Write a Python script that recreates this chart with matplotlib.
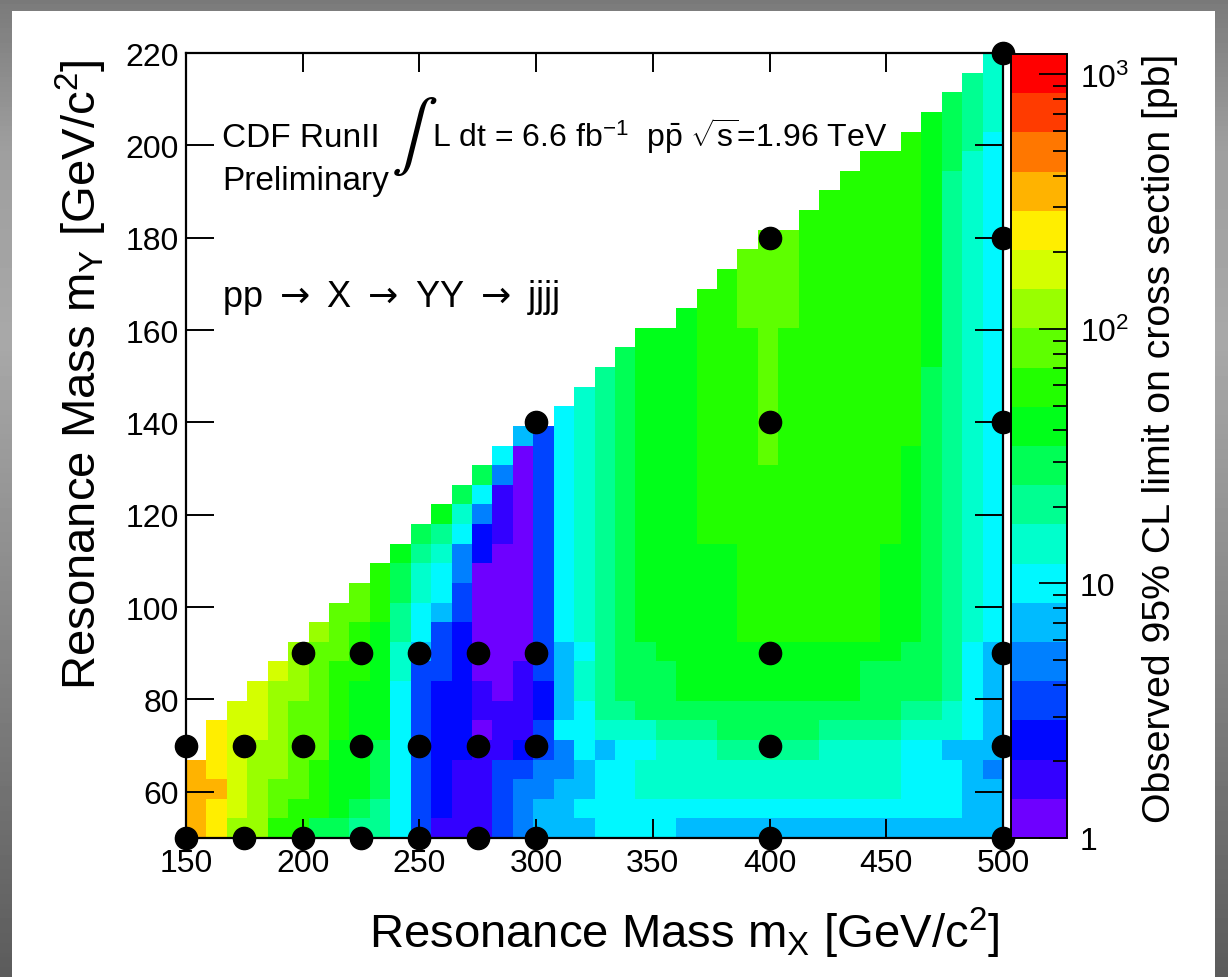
import numpy as np
import matplotlib
matplotlib.use("Agg")
import matplotlib.pyplot as plt
from matplotlib.colors import ListedColormap, LogNorm
from matplotlib.patches import Rectangle
from matplotlib.ticker import LogLocator, NullFormatter

plt.rcParams["font.family"] = ["Liberation Sans", "DejaVu Sans"]
plt.rcParams["mathtext.fontset"] = "custom"
plt.rcParams["mathtext.rm"] = "Liberation Sans"
plt.rcParams["mathtext.it"] = "Liberation Sans:italic"
plt.rcParams["mathtext.bf"] = "Liberation Sans:bold"

# binning of the limit histogram
mx_lo, mx_hi = 150, 500
my_lo, my_hi = 50, 220
n_bins = 40

# contour band of the observed limit in every filled bin, one string per m_X bin,
# first character = lowest m_Y bin ("0" = lowest band ... "j" = highest band)
band_codes = "0123456789abcdefghij"
limit_bands = [
    "gggg",
    "ffgfff",
    "deeeeee",
    "dddddeee",
    "bccddddde",
    "bbcccccddd",
    "9bbbccccccd",
    "9aaaabbbbccc",
    "89aaaaaabbbcc",
    "88999aaaaaabbb",
    "666666667788" + "99a",
    "3333333335667789",
    "1222222233356678a",
    "111122222223344679",
    "1111101100000022" + "469",
    "3333" + "111" + "0" * 8 + "111" + "46",
    "44432" + "1111" + "0" * 11 + "5",
    "554433" + "22" + "3" * 13,
    "555446" + "5555" + "6" * 12,
    "5655666776" + "7" * 13,
    "6666578888" + "8" * 14,
    "6666678999" + "9" * 15,
    "6677679999" + "a" * 16,
    "667778999a" + "a" * 16,
    "5677789aaa" + "a" * 17,
    "5677789aaa" + "a" * 5 + "b" * 13,
    "5677899aaa" + "a" * 5 + "b" * 14,
    "5677899aaa" + "b" * 16 + "c" * 4,
    "5677899aaa" + "b" * 9 + "c" * 12,
    "5677899aaa" + "b" * 16 + "c" * 5,
    "5677899aaa" + "b" * 22,
    "5677789aaa" + "b" * 23,
    "5677789aaa" + "b" * 24,
    "567778999a" + "b" * 25,
    "567778999a" + "a" * 5 + "b" * 20,
    "5666678999" + "a" * 10 + "b" * 16,
    "5666678999" + "9" * 14 + "a" * 13,
    "5666577888" + "8" * 24 + "9" * 4,
    "5555566666" + "7" * 25 + "8" * 4,
    "5554555555" + "6" * 26 + "7" * 4,
]

# generated signal points (m_X, m_Y)
signal_mx = [150, 150, 175, 175, 200, 200, 200, 225, 225, 225, 250, 250, 250,
             275, 275, 275, 300, 300, 300, 300, 400, 400, 400, 400, 400,
             500, 500, 500, 500, 500, 500]
signal_my = [50, 70, 50, 70, 50, 70, 90, 50, 70, 90, 50, 70, 90,
             50, 70, 90, 50, 70, 90, 140, 50, 70, 90, 140, 180,
             50, 70, 90, 140, 180, 220]

# colour scale of the limit [pb]
z_min = 1.0
log_z_max = 3.08
palette = ["#6e00ff", "#3300ff", "#0008ff", "#0044ff", "#0080ff", "#00bbff",
           "#00f8ff", "#00ffcc", "#00ff91", "#00ff55", "#00ff1a", "#22ff00",
           "#5eff00", "#99ff00", "#d4ff00", "#ffee00", "#ffb300", "#ff7700",
           "#ff3b00", "#ff0000"]
n_levels = len(palette)

# ---- fill the histogram ----
z = np.full((n_bins, n_bins), np.nan)
for ix, col in enumerate(limit_bands):
    for iy, ch in enumerate(col):
        k = band_codes.index(ch)
        z[iy, ix] = 10 ** ((k + 0.5) * log_z_max / n_levels)
z = np.ma.masked_invalid(z)
x_edges = np.linspace(mx_lo, mx_hi, n_bins + 1)
y_edges = np.linspace(my_lo, my_hi, n_bins + 1)

W, H = 1228, 978
fig = plt.figure(figsize=(W / 100, H / 100), dpi=100)

# slide frame
bg = fig.add_axes([0, 0, 1, 1], zorder=-10)
bg.set_axis_off()
rows = np.linspace(0, 1, 200)
grey = np.interp(rows, [0, 0.15, 0.35, 0.7, 1.0], [0.48, 0.62, 0.66, 0.50, 0.36])
bg.imshow(np.repeat(grey[:, None], 2, axis=1), cmap="gray", vmin=0, vmax=1,
          aspect="auto", extent=[0, 1, 0, 1], origin="upper")
bg.add_patch(Rectangle((12 / W, 0), (1215 - 12) / W, (H - 12) / H,
                       facecolor="white", edgecolor="none"))
bg.set_xlim(0, 1)
bg.set_ylim(0, 1)


def fx(px):
    return px / W


def fy(py):
    return 1 - py / H


ax = fig.add_axes([fx(186), fy(839), (1003 - 186) / W, (839 - 54) / H])
cmap = ListedColormap(palette)
norm = LogNorm(vmin=z_min, vmax=10 ** log_z_max)
mesh = ax.pcolormesh(x_edges, y_edges, z, cmap=cmap, norm=norm, zorder=1)
ax.plot(signal_mx, signal_my, "o", color="black", ms=16, clip_on=False, zorder=5)

ax.set_xlim(mx_lo, mx_hi)
ax.set_ylim(my_lo, my_hi)
ax.set_xticks(np.arange(150, 501, 50))
ax.set_yticks(np.arange(60, 221, 20))
ax.tick_params(direction="in", top=True, right=True, width=1.4, labelsize=23)
ax.tick_params(axis="x", length=14, pad=7)
ax.tick_params(axis="y", length=20, pad=5)
for sp in ax.spines.values():
    sp.set_linewidth(1.6)

# colour bar
cax = fig.add_axes([fx(1011), fy(839), (1067 - 1011) / W, (839 - 55) / H])
cb = fig.colorbar(mesh, cax=cax)
cb.outline.set_linewidth(1.4)
cb.set_ticks([1, 10, 100, 1000], labels=["1", "10", r"$10^{2}$", r"$10^{3}$"])
cax.yaxis.set_minor_locator(LogLocator(base=10, subs=np.arange(2, 10)))
cax.yaxis.set_minor_formatter(NullFormatter())
cax.tick_params(which="both", direction="in", right=True, left=False,
                width=1.3, labelsize=23, pad=9)
cax.tick_params(which="major", length=20)
cax.tick_params(which="minor", length=10)

# axis titles
fig.text(fx(684), fy(948), r"Resonance Mass m$_{\mathrm{X}}$ [GeV/c$^{2}$]",
         fontsize=34, ha="center", va="baseline")
fig.text(fx(96), fy(375), r"Resonance Mass m$_{\mathrm{Y}}$ [GeV/c$^{2}$]",
         fontsize=34, ha="center", va="baseline", rotation=90,
         rotation_mode="anchor")
fig.text(fx(1170), fy(438), "Observed 95% CL limit on cross section [pb]",
         fontsize=28.3, ha="center", va="baseline", rotation=90,
         rotation_mode="anchor")

# labels inside the frame
fig.text(fx(222), fy(147), "CDF RunII", fontsize=24, va="baseline")
fig.text(fx(222), fy(190), "Preliminary", fontsize=24, va="baseline")
fig.text(fx(391), fy(154), r"$\int$", fontsize=50, va="baseline",
         math_fontfamily="stix")
fig.text(fx(432), fy(147),
         r"L dt = 6.6 fb$^{-1}$  p$\bar{\mathrm{p}}$ $\sqrt{\mathrm{s}}$=1.96 TeV",
         fontsize=23, va="baseline")
fig.text(fx(222), fy(307),
         r"pp $\rightarrow$ X $\rightarrow$ YY $\rightarrow$ jjjj",
         fontsize=26, va="baseline", math_fontfamily="dejavusans")

fig.savefig("out.png", dpi=100)
